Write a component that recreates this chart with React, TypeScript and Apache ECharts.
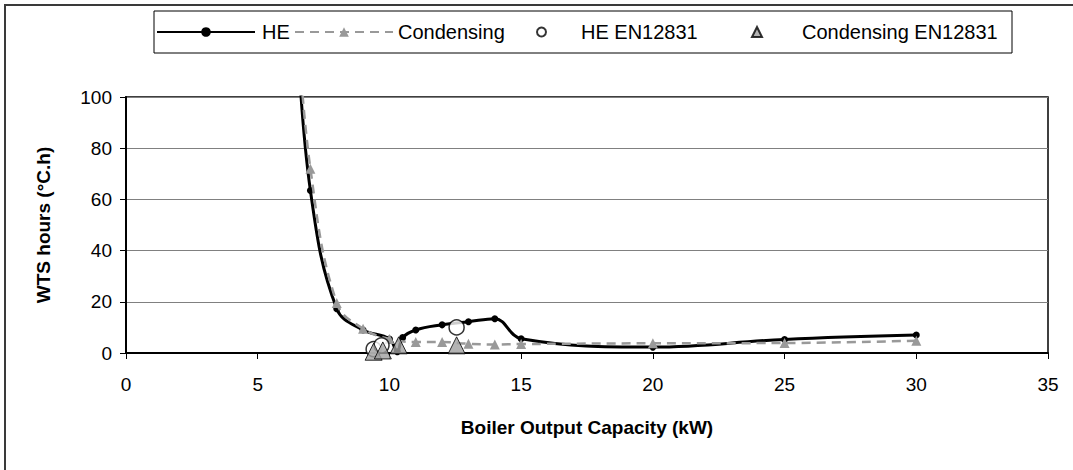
import React, { useEffect, useRef } from "react";
import * as echarts from "echarts";

const xTicks = { min: 0, max: 35, interval: 5 };
const yTicks = { min: 0, max: 100, interval: 20 };

const heData: number[][] = [
  [6.5, 125], [7, 63.5], [8, 17.3], [9, 9], [10, 5.5], [10.3, 0.5], [10.5, 6],
  [11, 9], [12, 11], [13, 12.2], [14, 13.4], [15, 5.6], [20, 2.3], [25, 5.3], [30, 7],
];
const condData: number[][] = [
  [6.5, 130], [7, 72], [8, 19.5], [9, 9.5], [10, 5.5], [11, 4.3], [12, 4.3],
  [13, 3.6], [14, 3.3], [15, 3.5], [20, 3.8], [25, 3.9], [30, 4.8],
];
const heEnData: number[][] = [[9.4, 1.5], [9.7, 3], [12.55, 10]];
const condEnData: number[][] = [[9.4, 0.5], [9.75, 1], [10.35, 3], [12.55, 3]];

const seriesNames = ["HE", "Condensing", "HE EN12831", "Condensing EN12831"];
const xTitle = "Boiler Output Capacity (kW)";
const yTitle = "WTS hours (°C.h)";

const FONT = "Liberation Sans";

export default function App() {
  const ref = useRef<HTMLDivElement>(null);
  useEffect(() => {
    if (!ref.current) return;
    const chart = echarts.init(ref.current, null, { renderer: "svg" });
    const mkLegend = (name: string, left: number, w: number, h: number, padLeft: number, icon?: string) => ({
      data: [icon ? { name, icon } : name],
      left,
      top: 22,
      padding: 0,
      itemWidth: w,
      itemHeight: h,
      itemGap: 0,
      textStyle: { fontSize: 20, color: "#000", fontFamily: FONT, padding: [0, 0, 0, padLeft] },
      selectedMode: false,
    });
    chart.setOption({
      animation: false,
      textStyle: { fontFamily: FONT },
      graphic: [
        {
          type: "rect",
          silent: true,
          z: -10,
          shape: { x: 5, y: 5, width: 1200, height: 600 },
          style: { fill: "none", stroke: "#3a3a3a", lineWidth: 2 },
        },
        {
          type: "rect",
          silent: true,
          z: -5,
          shape: { x: 154, y: 11, width: 858, height: 42 },
          style: { fill: "#fff", stroke: "#000", lineWidth: 1 },
        },
      ],
      legend: [
        mkLegend(seriesNames[0], 156, 98, 12, 2),
        mkLegend(seriesNames[1], 294, 98, 12, 0),
        mkLegend(seriesNames[2], 536, 9, 9, 30, "circle"),
        mkLegend(seriesNames[3], 751, 10, 10, 35, "triangle"),
      ],
      grid: {
        left: 126,
        right: 25,
        top: 97,
        bottom: 117,
        show: true,
        borderColor: "#000",
        borderWidth: 1.5,
        backgroundColor: "#fff",
      },
      xAxis: {
        type: "value",
        ...xTicks,
        name: xTitle,
        nameLocation: "middle",
        nameGap: 65,
        nameTextStyle: { fontSize: 19, fontWeight: "bold", color: "#000", fontFamily: FONT },
        axisLine: { show: true, onZero: false, lineStyle: { color: "#000", width: 2 } },
        axisTick: { show: true, length: 6, lineStyle: { color: "#000", width: 1 } },
        axisLabel: { fontSize: 19, color: "#000", margin: 22, fontFamily: FONT },
        splitLine: { show: false },
      },
      yAxis: {
        type: "value",
        ...yTicks,
        name: yTitle,
        nameLocation: "middle",
        nameGap: 73,
        nameTextStyle: { fontSize: 19, fontWeight: "bold", color: "#000", fontFamily: FONT },
        axisLine: { show: true, onZero: false, lineStyle: { color: "#000", width: 2 } },
        axisTick: { show: true, length: 6, lineStyle: { color: "#000", width: 1 } },
        axisLabel: { fontSize: 19, color: "#000", margin: 14, fontFamily: FONT },
        splitLine: { show: true, lineStyle: { color: "#808080", width: 1 } },
      },
      series: [
        {
          name: seriesNames[0],
          type: "line",
          data: heData,
          smooth: 0.4,
          symbol: "circle",
          symbolSize: 7,
          lineStyle: { color: "#000", width: 3 },
          itemStyle: { color: "#000" },
          z: 2,
        },
        {
          name: seriesNames[1],
          type: "line",
          data: condData,
          smooth: 0.4,
          symbol: "triangle",
          symbolSize: 10,
          lineStyle: { color: "#999", width: 2.5, type: [9, 6] },
          itemStyle: { color: "#999" },
          z: 3,
        },
        {
          name: seriesNames[2],
          type: "scatter",
          data: heEnData,
          symbol: "circle",
          symbolSize: 15,
          itemStyle: { color: "#fff", borderColor: "#000", borderWidth: 1.5 },
          z: 4,
        },
        {
          name: seriesNames[3],
          type: "scatter",
          data: condEnData,
          symbol: "triangle",
          symbolSize: 17,
          itemStyle: { color: "#a0a0a0", borderColor: "#000", borderWidth: 1 },
          z: 5,
        },
      ],
    });
    return () => chart.dispose();
  }, []);
  return (
    <div
      ref={ref}
      style={{ position: "fixed", left: 0, top: 0, width: 1073, height: 470, background: "#fff" }}
    />
  );
}
